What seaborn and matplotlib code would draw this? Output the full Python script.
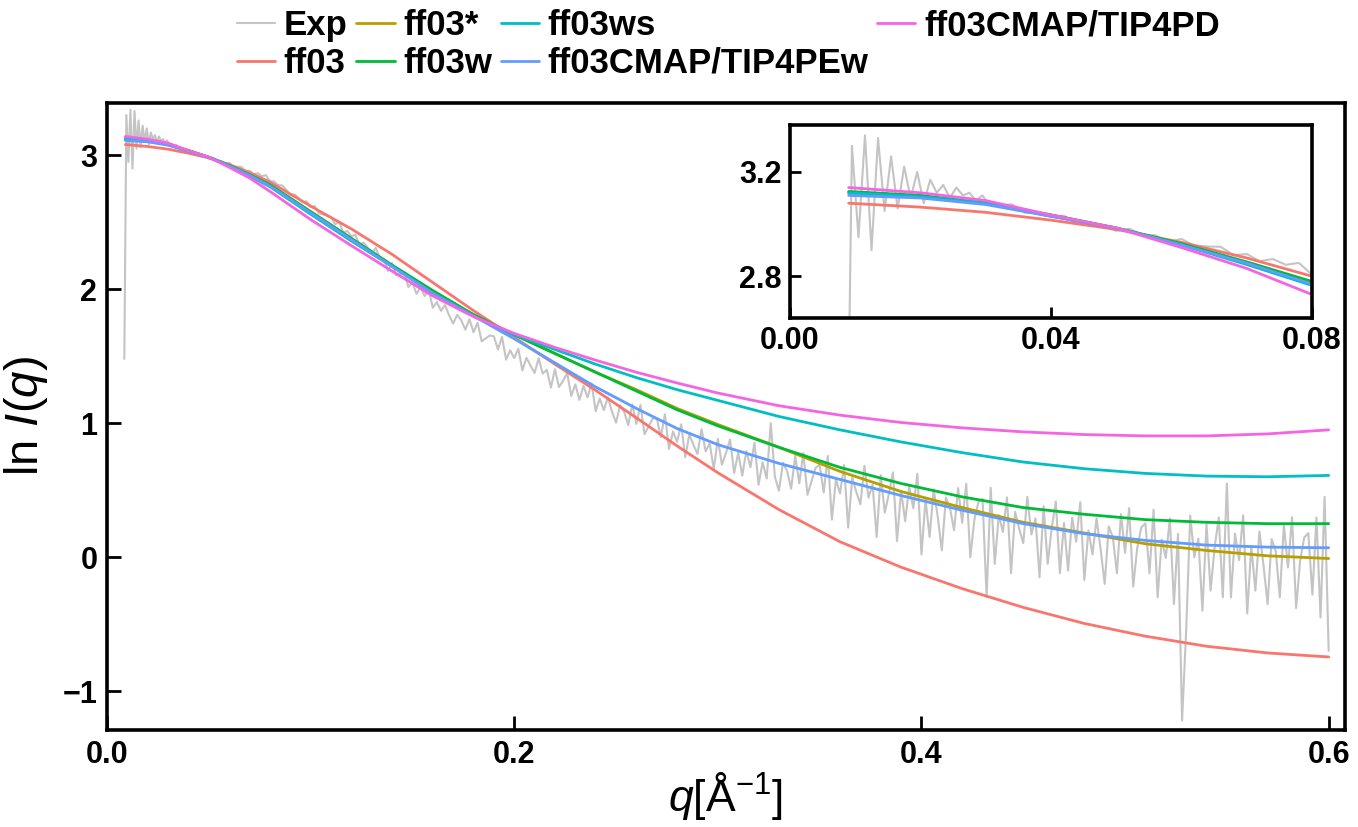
import numpy as np
import pandas as pd
import matplotlib
matplotlib.use("Agg")
import matplotlib.pyplot as plt
import seaborn as sns

# ---- data ----
# model curves sampled at these q values
q_model = [0.009, 0.02, 0.03, 0.04, 0.05, 0.06, 0.07, 0.08, 0.10, 0.12, 0.14, 0.16, 0.18, 0.20,
           0.22, 0.24, 0.26, 0.28, 0.30, 0.33, 0.36, 0.39, 0.42, 0.45, 0.48, 0.51, 0.54, 0.57, 0.60]

ff03 = [3.08, 3.065, 3.045, 3.015, 2.98, 2.93, 2.87, 2.80, 2.62, 2.45, 2.26, 2.05, 1.84, 1.64,
        1.44, 1.245, 1.04, 0.83, 0.63, 0.355, 0.115, -0.075, -0.235, -0.375, -0.495, -0.59, -0.665, -0.715, -0.745]
ff03_star = [3.12, 3.105, 3.08, 3.035, 2.985, 2.925, 2.85, 2.775, 2.575, 2.375, 2.175, 1.985, 1.81, 1.66,
             1.52, 1.38, 1.25, 1.11, 0.99, 0.82, 0.64, 0.49, 0.37, 0.26, 0.18, 0.10, 0.05, 0.01, -0.01]
ff03w = [3.125, 3.11, 3.08, 3.035, 2.985, 2.925, 2.855, 2.78, 2.58, 2.38, 2.18, 1.99, 1.81, 1.66,
         1.52, 1.38, 1.24, 1.10, 0.98, 0.82, 0.67, 0.55, 0.45, 0.37, 0.32, 0.28, 0.26, 0.25, 0.25]
ff03ws = [3.12, 3.105, 3.08, 3.03, 2.985, 2.92, 2.845, 2.765, 2.56, 2.36, 2.17, 1.97, 1.80, 1.66,
          1.55, 1.44, 1.34, 1.25, 1.17, 1.05, 0.95, 0.86, 0.78, 0.71, 0.66, 0.625, 0.605, 0.60, 0.61]
tip4pew = [3.11, 3.10, 3.075, 3.03, 2.985, 2.92, 2.85, 2.77, 2.57, 2.37, 2.17, 1.97, 1.80, 1.63,
           1.45, 1.27, 1.11, 0.96, 0.84, 0.70, 0.58, 0.46, 0.35, 0.25, 0.175, 0.125, 0.09, 0.075, 0.07]
tip4pd = [3.14, 3.12, 3.09, 3.035, 2.985, 2.91, 2.83, 2.73, 2.52, 2.325, 2.135, 1.95, 1.795, 1.67,
          1.565, 1.47, 1.38, 1.30, 1.225, 1.13, 1.06, 1.005, 0.965, 0.935, 0.915, 0.905, 0.905, 0.92, 0.95]

# experimental curve, low q part (step 0.001 from 0.0085)
exp_low = [1.48, 3.30, 2.95, 3.34, 2.90, 3.33, 3.05, 3.26, 3.06, 3.22, 3.10,
           3.20, 3.08, 3.17, 3.12, 3.15, 3.10, 3.14, 3.11, 3.12, 3.09, 3.11]
# experimental curve, rest (step 0.002 from 0.030)
exp_high = [
    3.092, 3.070, 3.076, 3.043, 3.045, 3.029, 3.032, 3.000, 3.006, 2.990,
    2.974, 2.982, 2.960, 2.957, 2.932, 2.943, 2.917, 2.914, 2.913, 2.881,
    2.885, 2.858, 2.866, 2.844, 2.851, 2.806, 2.805, 2.776, 2.775, 2.743,
    2.704, 2.708, 2.682, 2.648, 2.656, 2.614, 2.620, 2.566, 2.558, 2.550,
    2.538, 2.485, 2.504, 2.424, 2.434, 2.396, 2.406, 2.329, 2.348, 2.310,
    2.265, 2.309, 2.228, 2.227, 2.136, 2.195, 2.104, 2.113, 2.127, 2.016,
    2.048, 1.965, 2.014, 1.949, 1.998, 1.861, 1.904, 1.839, 1.882, 1.805,
    1.744, 1.808, 1.767, 1.698, 1.776, 1.679, 1.750, 1.611, 1.633, 1.655,
    1.648, 1.550, 1.644, 1.474, 1.544, 1.486, 1.556, 1.394, 1.488, 1.430,
    1.375, 1.485, 1.370, 1.399, 1.266, 1.403, 1.270, 1.317, 1.373, 1.204,
    1.290, 1.174, 1.278, 1.192, 1.296, 1.090, 1.184, 1.098, 1.192, 1.086,
    1.004, 1.134, 1.084, 0.986, 1.140, 0.994, 1.136, 0.918, 0.976, 1.034,
    1.038, 0.896, 1.066, 0.807, 0.938, 0.861, 0.992, 0.746, 0.916, 0.839,
    0.770, 0.955, 0.790, 0.849, 0.656, 0.883, 0.690, 0.777, 0.878, 0.629,
    0.778, 0.609, 0.792, 0.671, 0.854, 0.541, 0.708, 0.587, 1.000, 0.601,
    0.496, 0.705, 0.644, 0.511, 0.756, 0.551, 0.778, 0.465, 0.566, 0.667,
    0.690, 0.483, 0.756, 0.280, 0.582, 0.475, 0.688, 0.220, 0.594, 0.487,
    0.395, 0.682, 0.444, 0.542, 0.150, 0.612, 0.332, 0.472, 0.633, 0.120,
    0.496, 0.269, 0.526, 0.365, 0.622, 0.020, 0.432, 0.150, 0.506, 0.301,
    0.050, 0.445, 0.369, 0.201, 0.516, 0.256, 0.548, 0.000, 0.281, 0.412,
    0.434, -0.300, 0.518, -0.050, 0.314, 0.188, 0.446, -0.120, 0.338, 0.212,
    0.105, 0.450, 0.170, 0.290, -0.150, 0.380, -0.050, 0.220, 0.415, -0.120,
    0.255, -0.100, 0.295, 0.115, 0.410, -0.170, 0.200, 0.020, 0.290, 0.060,
    -0.200, 0.230, 0.148, -0.120, 0.322, 0.032, 0.366, -0.220, 0.072, 0.224,
    0.252, -0.120, 0.354, -0.300, 0.132, -0.006, 0.288, -0.350, 0.174, -1.220,
    -0.550, 0.310, 0.000, 0.138, -0.400, 0.246, -0.250, 0.074, 0.296, -0.300,
    0.550, -0.300, 0.176, -0.022, 0.312, -0.420, 0.084, -0.250, 0.192, -0.062,
    -0.350, 0.134, 0.045, -0.300, 0.244, -0.077, 0.298, -0.380, -0.025, 0.147,
    0.180, -0.280, 0.296, -0.450, 0.450, -0.700,
]

series = [
    ("ff03", ff03, "#F8766D"),
    ("ff03*", ff03_star, "#B79F00"),
    ("ff03w", ff03w, "#00BA38"),
    ("ff03ws", ff03ws, "#00BFC4"),
    ("ff03CMAP/TIP4PEw", tip4pew, "#619CFF"),
    ("ff03CMAP/TIP4PD", tip4pd, "#F564E3"),
]

exp_q = np.concatenate([0.0085 + 0.001 * np.arange(len(exp_low)),
                        0.030 + 0.002 * np.arange(len(exp_high))])
exp_df = pd.DataFrame({"q": exp_q, "lnI": exp_low + exp_high})

# ---- style ----
sns.set_style("ticks")
plt.rcParams["font.family"] = ["Liberation Sans", "DejaVu Sans"]
plt.rcParams["mathtext.fontset"] = "custom"
plt.rcParams["mathtext.rm"] = "Liberation Sans"
plt.rcParams["mathtext.it"] = "Liberation Sans:italic"
plt.rcParams["axes.linewidth"] = 2.6
for key in ["axes.edgecolor", "xtick.color", "ytick.color", "text.color", "axes.labelcolor"]:
    plt.rcParams[key] = "black"


def draw_curves(ax, lw, add_label):
    sns.lineplot(data=exp_df, x="q", y="lnI", ax=ax, color="#C4C4C4", lw=1.5,
                 estimator=None, label="Exp" if add_label else None)
    for name, vals, col in series:
        sns.lineplot(x=q_model, y=vals, ax=ax, color=col, lw=lw, estimator=None,
                     label=name if add_label else None)


fig = plt.figure(figsize=(13.58, 8.27), dpi=100)
ax = fig.add_axes([0.0788, 0.1173, 0.9116, 0.7582])
draw_curves(ax, 2.0, True)

ax.set_xlim(0, 0.608)
ax.set_ylim(-1.29, 3.39)
ax.set_xticks([0.0, 0.2, 0.4, 0.6])
ax.set_yticks([-1, 0, 1, 2, 3])
ax.set_xticklabels(["0.0", "0.2", "0.4", "0.6"])
ax.set_yticklabels(["\u22121", "0", "1", "2", "3"])
ax.tick_params(direction="in", length=10, width=2, labelsize=22, pad=7)
for lab in ax.get_xticklabels() + ax.get_yticklabels():
    lab.set_fontweight("bold")
ax.set_xlabel(r"$q$[Å$^{-1}$]", fontsize=32, labelpad=0)
ax.set_ylabel(r"ln $I$($q$)", fontsize=34, labelpad=9)

handles, labels = ax.get_legend_handles_labels()
ax.get_legend().remove()
fig.legend(handles, labels, loc="upper left", bbox_to_anchor=(237 / 1358, 1 - 9 / 827),
           ncol=4, frameon=False, borderaxespad=0, borderpad=0,
           handlelength=1.1, handletextpad=0.25, columnspacing=0.25, labelspacing=0.14,
           prop={"weight": "bold", "size": 25})

# inset zoom on low q
axin = fig.add_axes([0.5817, 0.6155, 0.3844, 0.2334])
draw_curves(axin, 2.0, False)
axin.set_xlim(0, 0.08)
axin.set_ylim(2.64, 3.38)
axin.set_xticks([0.0, 0.04, 0.08])
axin.set_xticklabels(["0.00", "0.04", "0.08"])
axin.set_yticks([2.8, 3.2])
axin.set_yticklabels(["2.8", "3.2"])
axin.tick_params(direction="in", length=8, width=2, labelsize=22, pad=6)
for lab in axin.get_xticklabels() + axin.get_yticklabels():
    lab.set_fontweight("bold")
axin.set_xlabel("")
axin.set_ylabel("")

fig.savefig("out.png", dpi=100)
